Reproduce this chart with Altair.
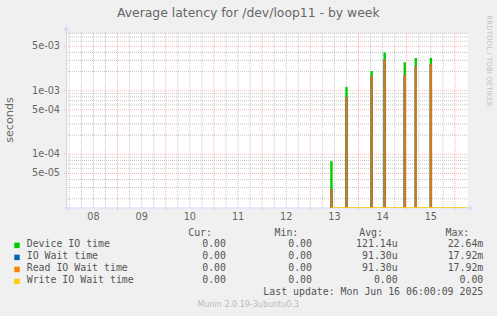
import altair as alt
import pandas as pd

# ---------------- data ----------------
title_text = "Average latency for /dev/loop11 - by week"
y_title = "seconds"
watermark = "RRDTOOL / TOBI OETIKER"
footer = "Munin 2.0.19-3ubuntu0.3"
last_update = "Last update: Mon Jun 16 06:00:09 2025"

spike_times = ["2025-06-13T10:30:00Z", "2025-06-13T18:00:00Z", "2025-06-14T06:30:00Z",
               "2025-06-14T13:00:00Z", "2025-06-14T23:00:00Z", "2025-06-15T04:30:00Z",
               "2025-06-15T12:00:00Z"]
device_io = [7.8e-5, 1.15e-3, 2.04e-3, 4.0e-3, 2.8e-3, 3.27e-3, 3.27e-3]
io_wait = [2.8e-5, 8.0e-4, 1.71e-3, 3.1e-3, 1.77e-3, 2.42e-3, 2.62e-3]
read_io_wait = [2.8e-5, 8.0e-4, 1.71e-3, 3.1e-3, 1.77e-3, 2.42e-3, 2.62e-3]
write_start = "2025-06-13T10:30:00Z"
write_end = "2025-06-16T06:00:00Z"

day_labels = ["08", "09", "10", "11", "12", "13", "14", "15"]
day_noons = ["2025-06-%sT12:00:00Z" % d for d in day_labels]
y_tick_values = [5e-5, 1e-4, 5e-4, 1e-3, 5e-3]
y_tick_labels = ["5e-05", "1e-04", "5e-04", "1e-03", "5e-03"]

series_names = ["Device IO time", "IO Wait time", "Read IO Wait time", "Write IO Wait time"]
series_colors = ["#00CC00", "#0066B3", "#FF8000", "#FFCC00"]
cur_vals = ["0.00", "0.00", "0.00", "0.00"]
min_vals = ["0.00", "0.00", "0.00", "0.00"]
avg_vals = ["121.14u", "91.30u", "91.30u", "0.00"]
max_vals = ["22.64m", "17.92m", "17.92m", "0.00"]
headers = ["Cur:", "Min:", "Avg:", "Max:"]

# ---------------- layout / style ----------------
W, H = 400, 175
FONT_COLOR = "#666666"
AXIS_COLOR = "#CFD6F8"
SANS = "DejaVu Sans"
MONO = "DejaVu Sans Mono"

xscale = alt.Scale(type="utc", nice=False,
                   domain=[alt.DateTime(year=2025, month=6, date=7, hours=22, minutes=50, utc=True),
                           alt.DateTime(year=2025, month=6, date=16, hours=6, utc=True)])
yscale = alt.Scale(type="log", nice=False, domain=[1.431e-5, 8.08e-3])

# grid positions
minor_y = [m * 10.0 ** e for e in (-5, -4, -3) for m in (2, 3, 4, 6, 7, 8, 9)]
minor_y = [v for v in minor_y if 1.431e-5 < v < 8.08e-3]
major_y = y_tick_values
six_h = pd.date_range("2025-06-08 00:00", "2025-06-16 00:00", freq="6h")
minor_x = [t.strftime("%Y-%m-%dT%H:%M:%SZ") for t in six_h if t.hour != 0]
major_x = [t.strftime("%Y-%m-%dT%H:%M:%SZ") for t in six_h if t.hour == 0]

grid_minor_h = alt.Chart(pd.DataFrame({"v": minor_y})).mark_rule(
    color="#BBBBBB", strokeDash=[1, 1], strokeWidth=1, opacity=0.85
).encode(y=alt.Y("v:Q", scale=yscale, axis=None))

grid_minor_v = alt.Chart(pd.DataFrame({"t": minor_x})).mark_rule(
    color="#BBBBBB", strokeDash=[1, 1], strokeWidth=1, opacity=0.85
).encode(x=alt.X("t:T", scale=xscale, axis=None))

grid_major_h = alt.Chart(pd.DataFrame({"v": major_y})).mark_rule(
    color="#FF0000", strokeDash=[1, 1], strokeWidth=1, opacity=0.27
).encode(y=alt.Y("v:Q", scale=yscale, axis=None), x=alt.value(-3), x2=alt.value(W))

grid_major_v = alt.Chart(pd.DataFrame({"t": major_x})).mark_rule(
    color="#FF0000", strokeDash=[1, 1], strokeWidth=1, opacity=0.32
).encode(x=alt.X("t:T", scale=xscale, axis=None), y=alt.value(0), y2=alt.value(H + 3))

# axis lines and arrows
axis_left = alt.Chart(pd.DataFrame({"a": [0]})).mark_rule(color=AXIS_COLOR, strokeWidth=1).encode(
    x=alt.value(-0.5), y=alt.value(-4), y2=alt.value(H + 2))
axis_bottom = alt.Chart(pd.DataFrame({"a": [0]})).mark_rule(color=AXIS_COLOR, strokeWidth=1).encode(
    x=alt.value(-3), x2=alt.value(W + 3), y=alt.value(H))
arrow_up = alt.Chart(pd.DataFrame({"a": [0]})).mark_point(
    shape="triangle-up", filled=True, size=28, color=AXIS_COLOR, opacity=1).encode(
    x=alt.value(-0.8), y=alt.value(-5))
arrow_right = alt.Chart(pd.DataFrame({"a": [0]})).mark_point(
    shape="triangle-right", filled=True, size=28, color=AXIS_COLOR, opacity=1).encode(
    x=alt.value(W + 4), y=alt.value(H))

# series
def spikes(values, color, width=2.0, opacity=1.0):
    df = pd.DataFrame({"t": spike_times, "v": values})
    return alt.Chart(df).mark_rule(color=color, strokeWidth=width, opacity=opacity, clip=True).encode(
        x=alt.X("t:T", scale=xscale, axis=None),
        y=alt.Y("v:Q", scale=yscale, axis=None),
        y2=alt.value(H))

s_device = spikes(device_io, series_colors[0], 2.4)
s_iowait = spikes(io_wait, series_colors[1], 2.4)
s_read = spikes(read_io_wait, series_colors[2], 2.4, 0.8)

write_line = alt.Chart(pd.DataFrame({"ts": [write_start], "te": [write_end]})).mark_rule(
    color=series_colors[3], strokeWidth=1.2, opacity=0.8, clip=True).encode(
    x=alt.X("ts:T", scale=xscale, axis=None), x2="te:T", y=alt.value(H - 0.3))

# tick labels
x_labels = alt.Chart(pd.DataFrame({"t": day_noons, "lab": day_labels})).mark_text(
    font=SANS, fontSize=9.7, color=FONT_COLOR, baseline="middle", align="center").encode(
    x=alt.X("t:T", scale=xscale, axis=None), y=alt.value(184.3), text="lab:N")

y_labels = alt.Chart(pd.DataFrame({"v": y_tick_values, "lab": y_tick_labels})).mark_text(
    font=SANS, fontSize=9.7, color=FONT_COLOR, baseline="middle", align="right").encode(
    y=alt.Y("v:Q", scale=yscale, axis=None), x=alt.value(-7), text="lab:N")


def text_layer(df, align, font, size, color, angle=0):
    return alt.Chart(df).mark_text(align=align, baseline="middle", font=font, fontSize=size,
                                   color=color, angle=angle).encode(
        x=alt.X("px:Q", scale=None, axis=None),
        y=alt.Y("py:Q", scale=None, axis=None),
        text="t:N")

title_l = text_layer(pd.DataFrame({"px": [181.3], "py": [-19.7], "t": [title_text]}),
                     "center", SANS, 12.4, FONT_COLOR)
ytitle_l = text_layer(pd.DataFrame({"px": [-57], "py": [87], "t": [y_title]}),
                      "center", SANS, 11.2, FONT_COLOR, 270)
wm_l = text_layer(pd.DataFrame({"px": [422], "py": [28], "t": [watermark]}),
                  "center", SANS, 7.1, "#C4C4C4", 90)
footer_l = text_layer(pd.DataFrame({"px": [181.3], "py": [272], "t": [footer]}),
                      "center", SANS, 8, "#BBBBBB")
update_l = text_layer(pd.DataFrame({"px": [416.3], "py": [259.3], "t": [last_update]}),
                      "right", MONO, 9.9, "#555555")

# legend table
NBSP = "\u00a0"
def cell(s):
    return s if s[-1].isalpha() else s + NBSP

row_y = [211.4 + 12 * i for i in range(4)]
col_right = [159, 245, 330.7, 416.3]
header_right = [145, 231.3, 316, 402.3]

leg_names = text_layer(pd.DataFrame({"px": [-40.3] * 4, "py": row_y, "t": series_names}),
                       "left", MONO, 9.9, "#555555")
hdr = text_layer(pd.DataFrame({"px": header_right, "py": [199.7] * 4, "t": headers}),
                 "right", MONO, 9.9, "#555555")
cells = []
for ci, col in enumerate([cur_vals, min_vals, avg_vals, max_vals]):
    cells.append(text_layer(pd.DataFrame({"px": [col_right[ci]] * 4, "py": row_y,
                                          "t": [cell(s) for s in col]}),
                            "right", MONO, 9.9, "#555555"))
swatches = alt.Chart(pd.DataFrame({"px": [-50] * 4, "py": [r + 1 for r in row_y],
                                   "c": series_colors})).mark_square(size=30, opacity=1).encode(
    x=alt.X("px:Q", scale=None, axis=None),
    y=alt.Y("py:Q", scale=None, axis=None),
    color=alt.Color("c:N", scale=None, legend=None))

chart = alt.layer(
    grid_minor_h, grid_minor_v, grid_major_h, grid_major_v,
    axis_left, axis_bottom,
    s_device, s_iowait, s_read, write_line,
    arrow_up, arrow_right,
    x_labels, y_labels,
    title_l, ytitle_l, wm_l, footer_l, update_l,
    leg_names, hdr, *cells, swatches,
).properties(
    width=W, height=H, background="#F0F0F0",
    padding={"left": 67, "top": 33, "right": 30, "bottom": 108},
    autosize=alt.AutoSizeParams(type="none"),
).configure_view(fill="white", strokeOpacity=0)

chart.save("out.html", embed_options={"renderer": "svg", "actions": False})
